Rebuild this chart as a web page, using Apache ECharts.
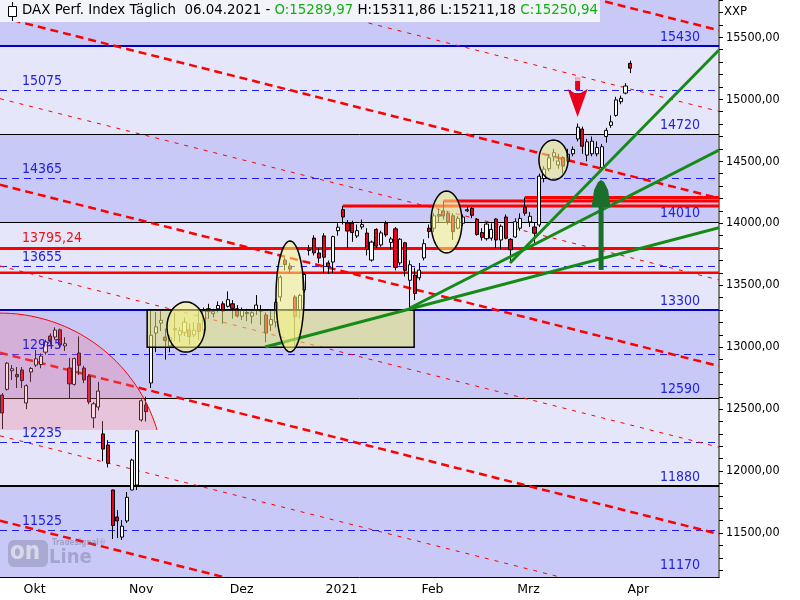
<!DOCTYPE html>
<html><head><meta charset="utf-8">
<script src="https://cdn.jsdelivr.net/npm/echarts/dist/echarts.min.js"></script>
<style>html,body{margin:0;padding:0;background:#fff}#c{width:800px;height:600px}</style>
</head><body><div id="c"></div><script>
// ---------------- DATA ----------------
const dates = ['2020-09-25','2020-09-28','2020-09-29','2020-09-30',
'2020-10-01','2020-10-02','2020-10-05','2020-10-06','2020-10-07','2020-10-08','2020-10-09','2020-10-12','2020-10-13','2020-10-14','2020-10-15','2020-10-16','2020-10-19','2020-10-20','2020-10-21','2020-10-22','2020-10-23','2020-10-26','2020-10-27','2020-10-28','2020-10-29','2020-10-30',
'2020-11-02','2020-11-03','2020-11-04','2020-11-05','2020-11-06','2020-11-09','2020-11-10','2020-11-11','2020-11-12','2020-11-13','2020-11-16','2020-11-17','2020-11-18','2020-11-19','2020-11-20','2020-11-23','2020-11-24','2020-11-25','2020-11-26','2020-11-27','2020-11-30',
'2020-12-01','2020-12-02','2020-12-03','2020-12-04','2020-12-07','2020-12-08','2020-12-09','2020-12-10','2020-12-11','2020-12-14','2020-12-15','2020-12-16','2020-12-17','2020-12-18','2020-12-21','2020-12-22','2020-12-23','2020-12-28','2020-12-29','2020-12-30',
'2021-01-04','2021-01-05','2021-01-06','2021-01-07','2021-01-08','2021-01-11','2021-01-12','2021-01-13','2021-01-14','2021-01-15','2021-01-18','2021-01-19','2021-01-20','2021-01-21','2021-01-22','2021-01-25','2021-01-26','2021-01-27','2021-01-28','2021-01-29',
'2021-02-01','2021-02-02','2021-02-03','2021-02-04','2021-02-05','2021-02-08','2021-02-09','2021-02-10','2021-02-11','2021-02-12','2021-02-15','2021-02-16','2021-02-17','2021-02-18','2021-02-19','2021-02-22','2021-02-23','2021-02-24','2021-02-25','2021-02-26',
'2021-03-01','2021-03-02','2021-03-03','2021-03-04','2021-03-05','2021-03-08','2021-03-09','2021-03-10','2021-03-11','2021-03-12','2021-03-15','2021-03-16','2021-03-17','2021-03-18','2021-03-19','2021-03-22','2021-03-23','2021-03-24','2021-03-25','2021-03-26','2021-03-29','2021-03-30','2021-03-31',
'2021-04-01','2021-04-06'];

const opens = [12614,12660,12810,12780,
12816,12550,12800,12856,12860,12960,13090,13082,13140,13010,12832,12700,12953,12832,12767,12430,12517,12300,12211,11848,11630,11468,
11598,11848,11888,12413,12534,12711,13114,13195,13082,13010,13150,13100,13120,13140,13100,13190,13140,13310,13270,13310,13350,
13330,13350,13310,13250,13280,13250,13300,13290,13260,13180,13203,13405,13703,13655,13405,13300,13461,13780,13880,13760,
13898,13680,13687,13940,14110,14002,14002,13897,13970,13921,13703,13950,13825,14000,13845,13955,13680,13842,13540,13582,
13560,13720,13960,13960,14070,14100,14080,14060,13960,14000,14100,14120,14030,13925,13875,13880,14034,13865,14050,13870,
13889,13960,14131,14010,13970,13986,14360,14440,14540,14470,14530,14500,14560,14680,14760,14550,14560,14560,14450,14700,14790,14870,14980,
15050,15289.97];
const highs = [12630,12880,12856,12840,
12840,12700,12840,12977,12950,13060,13110,13160,13150,13080,12913,12915,13087,12850,12780,12558,12720,12404,12250,11850,11686,11605,
11832,12100,12330,12580,12600,13297,13284,13290,13150,13100,13280,13160,13240,13190,13200,13300,13320,13350,13310,13370,13370,
13450,13380,13340,13320,13310,13290,13420,13340,13280,13290,13390,13580,13720,13680,13420,13430,13600,13825,13903,13800,
13920,13700,13900,14000,14139,14026,14020,13990,14030,13960,13860,13960,13940,14020,13890,13970,13880,13850,13700,13640,
13680,13870,13990,14080,14120,14179,14100,14080,14060,14070,14140,14130,14040,13960,14010,14000,14040,13990,14070,13880,
14040,14080,14208,14090,14002,14400,14460,14560,14600,14560,14540,14600,14620,14804,14780,14680,14700,14660,14640,14770,14870,15020,15030,
15130,15311.86];
const lows = [12340,12650,12735,12671,
12671,12500,12720,12840,12830,12940,13020,13060,12990,12970,12590,12690,12775,12710,12540,12348,12490,12080,12030,11452,11460,11445,
11582,11845,11848,12400,12400,12671,12960,13130,12900,12960,13050,13040,13090,13020,13080,13060,13100,13230,13240,13280,13190,
13320,13230,13240,13220,13210,13190,13260,13180,13040,13130,13160,13370,13620,13600,13010,13230,13440,13740,13740,13680,
13600,13590,13600,13900,13990,13800,13850,13880,13950,13740,13690,13800,13810,13890,13790,13620,13660,13570,13316,13380,
13540,13700,13880,13930,14010,14030,13990,13865,13950,13980,14090,14040,13900,13860,13860,13860,13800,13790,13870,13680,
13880,13940,14060,13970,13840,13970,14330,14420,14500,14440,14400,14480,14540,14660,14560,14500,14540,14540,14420,14650,14770,14860,14960,
15040,15211.18];
const closes = [12469,12871,12826,12761,
12731,12689,12828,12906,12928,13042,13051,13138,13018,13028,12704,12908,12854,12736,12558,12543,12646,12178,12064,11561,11598,11556,
11789,12089,12325,12568,12480,13096,13164,13217,13053,13077,13139,13133,13202,13086,13137,13127,13292,13289,13286,13336,13291,
13383,13313,13252,13298,13271,13278,13340,13296,13114,13223,13363,13565,13667,13630,13246,13418,13587,13790,13761,13719,
13726,13651,13892,13968,14050,13937,13925,13940,13989,13788,13848,13815,13922,13906,13873,13644,13871,13620,13665,13433,
13622,13835,13933,14060,14057,14059,14012,13932,14040,14050,14109,14064,13909,13886,13993,13950,13865,13976,13879,13786,
14012,14039,14080,14056,13920,14380,14437,14528,14569,14502,14461,14557,14596,14775,14621,14657,14662,14610,14617,14749,14818,14995,15008,
15107,15250.94];

// month tick labels (first trading day of month)
const monthTickDates = ['2020-10-01','2020-11-02','2020-12-01','2021-01-04','2021-02-01','2021-03-01','2021-04-01'];
const monthTickLabels = ['Okt','Nov','Dez','2021','Feb','Mrz','Apr'];

// y axis ticks / labels
const yTickValues = [11200,11300,11400,11500,11600,11700,11800,11900,12000,12100,12200,12300,12400,12500,12600,12700,12800,12900,13000,13100,13200,13300,13400,13500,13600,13700,13800,13900,14000,14100,14200,14300,14400,14500,14600,14700,14800,14900,15000,15100,15200,15300,15400,15500,15600,15700,15800];
const yLabelValues = [11500,12000,12500,13000,13500,14000,14500,15000,15500];

// horizontal levels
const levelValues = [15430,14720,14010,13300,12590,11880];
const levelLabelValues = [15430,14720,14010,13300,12590,11880,11170];
const midLevelValues = [15075,14365,13655,12945,12235,11525];
const redLevelValues = [13795.24,13600];
const redLevelLabel = '13795,24';
const highLineIdx = [71,92,109];      // bars whose highs are extended

// descending red channel (value at bar -0.5, slope per bar)
const channelThickStart = [17019,15664,14310,12955,11600];
const channelThinStart = [16365,15005,13655,12285];
const channelSlope = -9.75;

// green trendlines [[bar,value],[bar,value]]
const greenLines = [
  [[54.8,13001],[149.5,13965]],
  [[85.0,13316],[149.5,14591]],
  [[105.9,13679],[149.5,15398]]
];
// annotations
const boxes = [[30.2,13300,85.9,13000]];
const ellipses = [[38.3,13163,3.96,202],[60.0,13409,2.92,448],[92.65,14010,3.23,250],[114.97,14510,3.03,161]];
const pinkCircle = [-0.5,11952,34.2,1323,12332];
const redArrow = [120,14857,15083,15180];
const greenArrow = [124.9,14349,14131,13623];

const yMin = 11146, yMax = 15801;
const FUTURE = 18;

// ---------------- CHART ----------------
const cats = dates.concat(new Array(FUTURE).fill(''));
const NC = cats.length;
const tickIdx = new Set(monthTickDates.map(d => dates.indexOf(d)));
const labelOf = {}; monthTickDates.forEach((d,k)=>labelOf[d]=monthTickLabels[k]);
const FONT = '"DejaVu Sans Condensed","DejaVu Sans",sans-serif';
const FONTR = '"DejaVu Sans",sans-serif';
const fmt = v => v.toFixed(2).replace('.', ',');

const candleData = dates.map((d,k)=>[opens[k],closes[k],lows[k],highs[k]]);

function cust(z, render, clip) {
  return {type:'custom', xAxisIndex:1, yAxisIndex:0, z:z, clip: !!clip, silent:true,
    data:[[0,yMin]], renderItem: render};
}
function ell(api, e) {
  const c = api.coord([e[0], e[1]]);
  const rx = api.size([e[2],0])[0], ry = api.size([0,e[3]])[1];
  const pts=[]; for(let k=0;k<72;k++){const t=2*Math.PI*k/72; pts.push([c[0]+rx*Math.cos(t), c[1]+ry*Math.sin(t)]);}
  return pts;
}

const chart = echarts.init(document.getElementById('c'), null, {renderer:'canvas'});
const option = {
  animation:false,
  backgroundColor:'#ffffff',
  grid:{left:0,right:81,top:0,bottom:23},
  xAxis:[
    {type:'category', data:cats, boundaryGap:true,
     axisLine:{onZero:false, lineStyle:{color:'#000',width:1}},
     axisTick:{alignWithLabel:true, interval:(i)=>tickIdx.has(i), length:5, lineStyle:{color:'#000'}},
     axisLabel:{interval:(i)=>tickIdx.has(i), formatter:(v)=>labelOf[v]||'', align:'left', padding:[0,0,0,2],
       color:'#000', fontSize:12.5, fontFamily:FONTR, margin:6},
     splitLine:{show:false}},
    {type:'value', min:-0.5, max:NC-0.5, show:false}
  ],
  yAxis:[{type:'value', position:'right', min:yMin, max:yMax, scale:true,
    axisLine:{show:true, onZero:false, lineStyle:{color:'#808080', width:2}},
    axisTick:{show:true, customValues:yTickValues, length:4, lineStyle:{color:'#000'}},
    axisLabel:{customValues:yLabelValues, formatter:fmt, color:'#000', fontSize:12.5, fontFamily:FONT, margin:7},
    splitLine:{show:false}}],
  series:[
    // background bands
    cust(0,(p,api)=>{
      const cs=p.coordSys; const b=[yMax].concat(levelValues).concat([yMin]); const ch=[];
      for(let k=0;k<b.length-1;k++){
        const y1=api.coord([0,b[k]])[1], y2=api.coord([0,b[k+1]])[1];
        ch.push({type:'rect',shape:{x:cs.x,y:y1,width:cs.width,height:y2-y1},style:{fill:k%2===0?'#c9c9f7':'#e6e6fa'}});
      }
      return {type:'group',children:ch};
    }),
    // level lines + mid dashed lines
    cust(1,(p,api)=>{
      const cs=p.coordSys; const ch=[];
      const st=[['#0000c8',2],['#000',1],['#000',1],['#0000c8',2],['#000',1],['#000',2]];
      levelValues.forEach((v,k)=>{const y=Math.round(api.coord([0,v])[1])+(st[k][1]===1?0.5:0);
        ch.push({type:'line',shape:{x1:cs.x,y1:y,x2:cs.x+cs.width,y2:y},style:{stroke:st[k][0],lineWidth:st[k][1]}});});
      midLevelValues.forEach(v=>{const y=Math.round(api.coord([0,v])[1])+0.5;
        ch.push({type:'line',shape:{x1:cs.x,y1:y,x2:cs.x+cs.width,y2:y},style:{stroke:'#1e1ef0',lineWidth:1,lineDash:[7,5]}});});
      return {type:'group',children:ch};
    }),
    // red channel
    cust(2,(p,api)=>{
      const ch=[]; const x0=-0.5, x1=NC-0.5;
      const add=(v,w,dash)=>{const a=api.coord([x0,v]), b=api.coord([x1,v+channelSlope*(x1-x0)]);
        ch.push({type:'line',shape:{x1:a[0],y1:a[1],x2:b[0],y2:b[1]},style:{stroke:'#ff0000',lineWidth:w,lineDash:dash}});};
      channelThickStart.forEach(v=>add(v,2.5,[8,5]));
      channelThinStart.forEach(v=>add(v,1,[4,6]));
      return {type:'group',children:ch};
    }, true),
    // red horizontal lines
    cust(2,(p,api)=>{
      const cs=p.coordSys; const ch=[];
      redLevelValues.forEach((v,k)=>{const y=api.coord([0,v])[1];
        ch.push({type:'line',shape:{x1:cs.x,y1:y,x2:cs.x+cs.width,y2:y},style:{stroke:'#ff0000',lineWidth:k===0?3:2.5}});});
      highLineIdx.forEach(i=>{const a=api.coord([i,highs[i]]);
        ch.push({type:'line',shape:{x1:a[0],y1:a[1],x2:cs.x+cs.width,y2:a[1]},style:{stroke:'#ff0000',lineWidth:3}});});
      return {type:'group',children:ch};
    }),
    // candles
    {type:'candlestick', xAxisIndex:0, yAxisIndex:0, z:3, data:candleData, barWidth:3.6,
     itemStyle:{color:'#ffffff',color0:'#e8001c',borderColor:'#000',borderColor0:'#000',borderWidth:1}},
    // box (over candles, under green lines)
    cust(4,(p,api)=>{
      const ch=[];
      boxes.forEach(b=>{const a=api.coord([b[0],b[1]]), c=api.coord([b[2],b[3]]);
        ch.push({type:'rect',shape:{x:a[0],y:a[1],width:c[0]-a[0],height:c[1]-a[1]},style:{fill:'rgba(232,232,120,0.55)',stroke:'#000',lineWidth:1.5}});});
      return {type:'group',children:ch};
    }),
    // green trendlines
    cust(5,(p,api)=>{
      const ch=greenLines.map(l=>{const a=api.coord(l[0]), b=api.coord(l[1]);
        return {type:'line',shape:{x1:a[0],y1:a[1],x2:b[0],y2:b[1]},style:{stroke:'#168a16',lineWidth:3}};});
      return {type:'group',children:ch};
    }, true),
    // ellipses, pink circle
    cust(6,(p,api)=>{
      const cs=p.coordSys; const ch=[];
      ellipses.forEach(e=>ch.push({type:'polygon',shape:{points:ell(api,e)},style:{fill:'rgba(250,248,130,0.55)',stroke:'#000',lineWidth:1.5}}));
      const c=api.coord([pinkCircle[0],pinkCircle[1]]);
      const rx=api.size([pinkCircle[2],0])[0], ry=api.size([0,pinkCircle[3]])[1];
      const clipY=api.coord([0,pinkCircle[4]])[1];
      const t0=Math.asin(Math.min(1,(c[1]-clipY)/ry)); const arc=[];
      for(let k=0;k<=60;k++){const t=t0+(Math.PI/2-t0)*k/60; arc.push([c[0]+rx*Math.cos(t), c[1]-ry*Math.sin(t)]);}
      const poly=arc.slice().concat([[Math.max(c[0],cs.x),clipY]]);
      ch.push({type:'polygon',shape:{points:poly},style:{fill:'rgba(240,120,150,0.3)'}});
      ch.push({type:'polyline',shape:{points:arc},style:{stroke:'#ff0000',lineWidth:1,fill:null}});
      return {type:'group',children:ch};
    }, true),
    // arrows
    cust(7,(p,api)=>{
      const ch=[];
      const r=redArrow; const tip=api.coord([r[0],r[1]]), hb=api.coord([r[0],r[2]]), tl=api.coord([r[0],r[3]]);
      ch.push({type:'rect',shape:{x:tip[0]-2.5,y:tl[1],width:5,height:hb[1]-tl[1]+1},style:{fill:'#e8001c'}});
      ch.push({type:'rect',shape:{x:tip[0]-2.5,y:tl[1],width:5,height:4},style:{fill:'#f6b0b8'}});
      ch.push({type:'polygon',shape:{points:[[tip[0]-10,hb[1]],[tip[0]-3,hb[1]+4],[tip[0]+3,hb[1]+4],[tip[0]+10,hb[1]],[tip[0],tip[1]]]},style:{fill:'#e8001c'}});
      const g=greenArrow; const gt=api.coord([g[0],g[1]]), gb=api.coord([g[0],g[2]]), gl=api.coord([g[0],g[3]]);
      ch.push({type:'rect',shape:{x:gt[0]-2.5,y:gb[1]-1,width:5,height:gl[1]-gb[1]+1},style:{fill:'#1c6e2c'}});
      ch.push({type:'polygon',shape:{points:[[gt[0]-9.5,gb[1]],[gt[0]-7,gt[1]+10],[gt[0]-3,gt[1]+2],[gt[0],gt[1]],[gt[0]+3,gt[1]+2],[gt[0]+7,gt[1]+10],[gt[0]+9.5,gb[1]]]},style:{fill:'#1c6e2c'}});
      return {type:'group',children:ch};
    }),
    // level labels
    cust(8,(p,api)=>{
      const cs=p.coordSys; const ch=[]; const xr=cs.x+cs.width-19, xl=cs.x+22;
      const font='14px '+FONT;
      levelLabelValues.forEach(v=>{const y=api.coord([0,v])[1];
        ch.push({type:'text',style:{text:String(v),x:xr,y:y-2,align:'right',verticalAlign:'bottom',fill:'#2222dd',font:font}});});
      midLevelValues.forEach(v=>{const y=api.coord([0,v])[1];
        ch.push({type:'text',style:{text:String(v),x:xl,y:y-2,align:'left',verticalAlign:'bottom',fill:'#2222dd',font:font}});});
      const yr=api.coord([0,redLevelValues[0]])[1];
      ch.push({type:'text',style:{text:redLevelLabel,x:xl,y:yr-3,align:'left',verticalAlign:'bottom',fill:'#ee1111',font:font}});
      return {type:'group',children:ch};
    })
  ],
  graphic:[
    {type:'rect',left:0,top:0,shape:{width:600,height:22},style:{fill:'#f3f3fb'},z:100},
    {type:'line',shape:{x1:12.5,y1:2,x2:12.5,y2:21},style:{stroke:'#000',lineWidth:1},z:101},
    {type:'rect',shape:{x:8.5,y:6.5,width:8,height:10},style:{fill:'#fff',stroke:'#000',lineWidth:1},z:102},
    {type:'text',x:22,y:11,z:103,style:{text:'{b|DAX Perf. Index Täglich  06.04.2021 - }{g|O:15289,97}{b| H:15311,86 L:15211,18 }{g|C:15250,94}',
      verticalAlign:'middle',rich:{b:{fill:'#000',font:'13.4px '+FONTR},g:{fill:'#10b010',font:'13.4px '+FONTR}}}},
    {type:'text',x:724,y:12,z:103,style:{text:'XXP',fill:'#000',font:'13px '+FONT,verticalAlign:'middle'}},
    {type:'rect',shape:{x:8,y:540,width:40,height:27,r:6},style:{fill:'rgba(110,110,140,0.35)'},z:90},
    {type:'text',x:10,y:553,z:91,style:{text:'on',fill:'rgba(225,225,240,0.85)',font:'bold 24px '+FONT,verticalAlign:'middle'}},
    {type:'text',x:49,y:558,z:91,style:{text:'Line',fill:'rgba(110,110,140,0.4)',font:'bold 20px '+FONT,verticalAlign:'middle'}},
    {type:'text',x:52,y:543,z:91,style:{text:'Tradesignal®',fill:'rgba(110,110,140,0.45)',font:'bold 8px '+FONT,verticalAlign:'middle'}}
  ]
};
chart.setOption(option);
</script></body></html>
